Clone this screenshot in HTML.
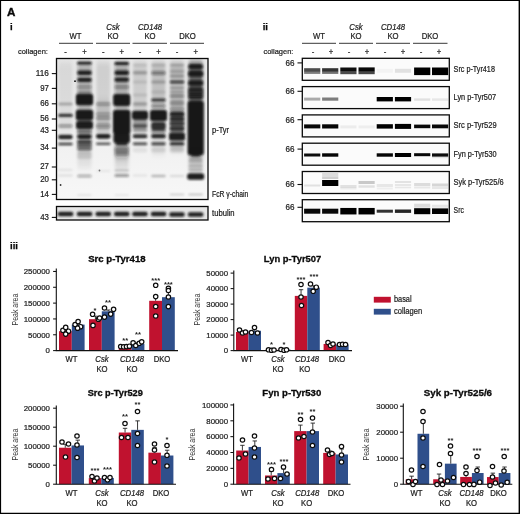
<!DOCTYPE html>
<html lang="en"><head><meta charset="utf-8"><title>Figure A</title>
<style>html,body{margin:0;padding:0;background:#fff;overflow:hidden}svg{display:block}text{font-family:'Liberation Sans', Arial, sans-serif}</style></head><body>
<svg width="520" height="514" viewBox="0 0 520 514">
<defs>
<filter id="b1" filterUnits="userSpaceOnUse" x="50" y="50" width="165" height="175"><feGaussianBlur stdDeviation="1.0 0.85"/></filter>
<filter id="b2" filterUnits="userSpaceOnUse" x="50" y="50" width="165" height="175"><feGaussianBlur stdDeviation="1.6 3"/></filter>
<filter id="b3" filterUnits="userSpaceOnUse" x="50" y="50" width="410" height="180"><feGaussianBlur stdDeviation="0.35 0.75"/></filter>
<linearGradient id="bg1" x1="0" y1="0" x2="0" y2="1"><stop offset="0" stop-color="#e7e7e7"/><stop offset="0.5" stop-color="#efefef"/><stop offset="1" stop-color="#f7f7f7"/></linearGradient>
<clipPath id="c1"><rect x="56.5" y="58.5" width="151.5" height="141"/></clipPath>
<clipPath id="c2"><rect x="56.5" y="206.5" width="151.5" height="13.5"/></clipPath>
</defs>
<rect x="0" y="0" width="520" height="514" fill="#fff"/>
<text x="6.9" y="16" font-size="10.8" text-anchor="start" font-weight="bold" textLength="8.4" lengthAdjust="spacingAndGlyphs" fill="#0a0a0a" stroke="#0a0a0a" stroke-width="0.35">A</text>
<text x="9.9" y="29.8" font-size="9.6" text-anchor="start" font-weight="bold" fill="#0a0a0a" stroke="#0a0a0a" stroke-width="0.25">i</text>
<text x="262.7" y="29.8" font-size="9.6" text-anchor="start" font-weight="bold" fill="#0a0a0a" stroke="#0a0a0a" stroke-width="0.25">ii</text>
<text x="10" y="248.6" font-size="9.6" text-anchor="start" font-weight="bold" fill="#0a0a0a" stroke="#0a0a0a" stroke-width="0.25">iii</text>
<text transform="translate(75.5 38.9) scale(0.93 1)" font-size="8.3" text-anchor="middle" stroke="#222" stroke-width="0.22" fill="#222">WT</text>
<line x1="59" y1="43.3" x2="93" y2="43.3" stroke="#222" stroke-width="0.9"/>
<text transform="translate(113 30.2) scale(0.93 1)" font-size="8.3" text-anchor="middle" font-style="italic" stroke="#222" stroke-width="0.22" fill="#222">Csk</text>
<text transform="translate(113 38.9) scale(0.93 1)" font-size="8.3" text-anchor="middle" stroke="#222" stroke-width="0.22" fill="#222">KO</text>
<line x1="96" y1="43.3" x2="130" y2="43.3" stroke="#222" stroke-width="0.9"/>
<text transform="translate(150 30.2) scale(0.93 1)" font-size="8.3" text-anchor="middle" font-style="italic" stroke="#222" stroke-width="0.22" fill="#222">CD148</text>
<text transform="translate(150 38.9) scale(0.93 1)" font-size="8.3" text-anchor="middle" stroke="#222" stroke-width="0.22" fill="#222">KO</text>
<line x1="132.5" y1="43.3" x2="167" y2="43.3" stroke="#222" stroke-width="0.9"/>
<text transform="translate(187.5 38.9) scale(0.93 1)" font-size="8.3" text-anchor="middle" stroke="#222" stroke-width="0.22" fill="#222">DKO</text>
<line x1="170" y1="43.3" x2="204" y2="43.3" stroke="#222" stroke-width="0.9"/>
<text x="17.9" y="54.2" font-size="7.9" text-anchor="start" textLength="30" lengthAdjust="spacingAndGlyphs" stroke="#222" stroke-width="0.22" fill="#222">collagen:</text>
<text transform="translate(65.5 55.0) scale(0.93 1)" font-size="8.3" text-anchor="middle" stroke="#222" stroke-width="0.22" fill="#222">-</text>
<text transform="translate(84.5 55.1) scale(0.93 1)" font-size="8.3" text-anchor="middle" stroke="#222" stroke-width="0.22" fill="#222">+</text>
<text transform="translate(103.3 55.0) scale(0.93 1)" font-size="8.3" text-anchor="middle" stroke="#222" stroke-width="0.22" fill="#222">-</text>
<text transform="translate(121.7 55.1) scale(0.93 1)" font-size="8.3" text-anchor="middle" stroke="#222" stroke-width="0.22" fill="#222">+</text>
<text transform="translate(140 55.0) scale(0.93 1)" font-size="8.3" text-anchor="middle" stroke="#222" stroke-width="0.22" fill="#222">-</text>
<text transform="translate(158.5 55.1) scale(0.93 1)" font-size="8.3" text-anchor="middle" stroke="#222" stroke-width="0.22" fill="#222">+</text>
<text transform="translate(177 55.0) scale(0.93 1)" font-size="8.3" text-anchor="middle" stroke="#222" stroke-width="0.22" fill="#222">-</text>
<text transform="translate(195.7 55.1) scale(0.93 1)" font-size="8.3" text-anchor="middle" stroke="#222" stroke-width="0.22" fill="#222">+</text>
<text x="48.9" y="75.89999999999999" font-size="8.5" text-anchor="end" textLength="13.11" lengthAdjust="spacingAndGlyphs" stroke="#222" stroke-width="0.22" fill="#222">116</text>
<line x1="51.8" y1="73.6" x2="56.5" y2="73.6" stroke="#111" stroke-width="1.1"/>
<text x="48.9" y="90.7" font-size="8.5" text-anchor="end" textLength="8.74" lengthAdjust="spacingAndGlyphs" stroke="#222" stroke-width="0.22" fill="#222">97</text>
<line x1="51.8" y1="88.4" x2="56.5" y2="88.4" stroke="#111" stroke-width="1.1"/>
<text x="48.9" y="106.1" font-size="8.5" text-anchor="end" textLength="8.74" lengthAdjust="spacingAndGlyphs" stroke="#222" stroke-width="0.22" fill="#222">66</text>
<line x1="51.8" y1="103.8" x2="56.5" y2="103.8" stroke="#111" stroke-width="1.1"/>
<text x="48.9" y="121.3" font-size="8.5" text-anchor="end" textLength="8.74" lengthAdjust="spacingAndGlyphs" stroke="#222" stroke-width="0.22" fill="#222">56</text>
<line x1="51.8" y1="119" x2="56.5" y2="119" stroke="#111" stroke-width="1.1"/>
<text x="48.9" y="132.60000000000002" font-size="8.5" text-anchor="end" textLength="8.74" lengthAdjust="spacingAndGlyphs" stroke="#222" stroke-width="0.22" fill="#222">43</text>
<line x1="51.8" y1="130.3" x2="56.5" y2="130.3" stroke="#111" stroke-width="1.1"/>
<text x="48.9" y="150.4" font-size="8.5" text-anchor="end" textLength="8.74" lengthAdjust="spacingAndGlyphs" stroke="#222" stroke-width="0.22" fill="#222">34</text>
<line x1="51.8" y1="148.1" x2="56.5" y2="148.1" stroke="#111" stroke-width="1.1"/>
<text x="48.9" y="169.3" font-size="8.5" text-anchor="end" textLength="8.74" lengthAdjust="spacingAndGlyphs" stroke="#222" stroke-width="0.22" fill="#222">27</text>
<line x1="51.8" y1="167" x2="56.5" y2="167" stroke="#111" stroke-width="1.1"/>
<text x="48.9" y="182.10000000000002" font-size="8.5" text-anchor="end" textLength="8.74" lengthAdjust="spacingAndGlyphs" stroke="#222" stroke-width="0.22" fill="#222">20</text>
<line x1="51.8" y1="179.8" x2="56.5" y2="179.8" stroke="#111" stroke-width="1.1"/>
<text x="48.9" y="196.70000000000002" font-size="8.5" text-anchor="end" textLength="8.74" lengthAdjust="spacingAndGlyphs" stroke="#222" stroke-width="0.22" fill="#222">14</text>
<line x1="51.8" y1="194.4" x2="56.5" y2="194.4" stroke="#111" stroke-width="1.1"/>
<text x="48.9" y="219.70000000000002" font-size="8.5" text-anchor="end" textLength="8.74" lengthAdjust="spacingAndGlyphs" stroke="#222" stroke-width="0.22" fill="#222">43</text>
<line x1="51.8" y1="217.4" x2="56.5" y2="217.4" stroke="#111" stroke-width="1.1"/>
<text x="212" y="133" font-size="8.3" text-anchor="start" textLength="17" lengthAdjust="spacingAndGlyphs" stroke="#222" stroke-width="0.22" fill="#222">p-Tyr</text>
<text x="212" y="196.6" font-size="8.3" text-anchor="start" textLength="36.3" lengthAdjust="spacingAndGlyphs" stroke="#222" stroke-width="0.22" fill="#222">FcR γ-chain</text>
<text x="212" y="215.6" font-size="8.3" text-anchor="start" textLength="22.6" lengthAdjust="spacingAndGlyphs" stroke="#222" stroke-width="0.22" fill="#222">tubulin</text>
<rect x="56.5" y="58.5" width="151.5" height="141" fill="url(#bg1)"/>
<g clip-path="url(#c1)">
<g filter="url(#b2)">
<rect x="58.5" y="62.0" width="14" height="70" rx="3" fill="#141414" opacity="0.07"/>
<rect x="77.5" y="62.0" width="14" height="88" rx="3" fill="#141414" opacity="0.28"/>
<rect x="77.5" y="150.0" width="14" height="18" rx="3" fill="#141414" opacity="0.08"/>
<rect x="96.3" y="62.0" width="14" height="38" rx="3" fill="#141414" opacity="0.11"/>
<rect x="96.3" y="100.0" width="14" height="34" rx="3" fill="#141414" opacity="0.2"/>
<rect x="114.7" y="62.0" width="14" height="96" rx="3" fill="#141414" opacity="0.3"/>
<rect x="114.7" y="150.0" width="14" height="20" rx="3" fill="#141414" opacity="0.1"/>
<rect x="133.0" y="62.0" width="14" height="72" rx="3" fill="#141414" opacity="0.13"/>
<rect x="151.5" y="62.0" width="14" height="72" rx="3" fill="#141414" opacity="0.18"/>
<rect x="151.5" y="134.0" width="14" height="20" rx="3" fill="#141414" opacity="0.08"/>
<rect x="170.0" y="62.0" width="14" height="88" rx="3" fill="#141414" opacity="0.22"/>
<rect x="188.7" y="62.0" width="14" height="42" rx="3" fill="#141414" opacity="0.6"/>
<rect x="188.7" y="100.0" width="14" height="58" rx="3" fill="#141414" opacity="0.5"/>
<rect x="188.7" y="158.0" width="14" height="14" rx="3" fill="#141414" opacity="0.1"/>
</g>
<g filter="url(#b1)">
<rect x="58.2" y="102.5" width="14.5" height="3" rx="1.5" fill="#141414" opacity="0.25"/>
<rect x="58.2" y="113.8" width="14.5" height="3.2" rx="1.6" fill="#141414" opacity="0.85"/>
<rect x="58.2" y="124.2" width="14.5" height="3.5" rx="1.75" fill="#141414" opacity="0.35"/>
<rect x="58.2" y="134.7" width="14.5" height="4.6" rx="2.3" fill="#141414" opacity="0.93"/>
<rect x="58.2" y="142.7" width="14.5" height="2.6" rx="1.3" fill="#141414" opacity="0.8"/>
<rect x="58.2" y="169.0" width="14.5" height="2" rx="1.0" fill="#141414" opacity="0.08"/>
<rect x="58.2" y="174.5" width="14.5" height="2" rx="1.0" fill="#141414" opacity="0.1"/>
<rect x="77.2" y="61.8" width="14.5" height="2.8" rx="1.4" fill="#141414" opacity="0.97"/>
<rect x="77.2" y="70.6" width="14.5" height="4.4" rx="2.2" fill="#141414" opacity="0.95"/>
<rect x="77.2" y="77.8" width="14.5" height="4.2" rx="2.1" fill="#141414" opacity="0.95"/>
<rect x="77.2" y="85.5" width="14.5" height="3" rx="1.5" fill="#141414" opacity="0.3"/>
<rect x="77.2" y="91.0" width="14.5" height="2" rx="1.0" fill="#141414" opacity="0.25"/>
<rect x="75.9" y="93.8" width="17.2" height="11.5" rx="2.5" fill="#141414" opacity="0.98"/>
<rect x="75.8" y="109.8" width="17.4" height="10.5" rx="2.5" fill="#141414" opacity="0.98"/>
<rect x="76.0" y="121.0" width="17" height="8" rx="2.5" fill="#141414" opacity="0.96"/>
<rect x="77.2" y="130.0" width="14.5" height="3" rx="1.5" fill="#141414" opacity="0.5"/>
<rect x="77.2" y="134.2" width="14.5" height="4.8" rx="2.4" fill="#141414" opacity="0.95"/>
<rect x="77.2" y="140.5" width="14.5" height="3" rx="1.5" fill="#141414" opacity="0.88"/>
<rect x="77.2" y="144.2" width="14.5" height="2.5" rx="1.25" fill="#141414" opacity="0.7"/>
<rect x="77.2" y="147.5" width="14.5" height="2.6" rx="1.3" fill="#141414" opacity="0.65"/>
<rect x="77.2" y="151.0" width="14.5" height="8" rx="2.5" fill="#141414" opacity="0.12"/>
<rect x="77.2" y="174.5" width="14.5" height="3" rx="1.5" fill="#141414" opacity="0.3"/>
<rect x="77.2" y="194.2" width="14.5" height="1.5" rx="0.75" fill="#141414" opacity="0.1"/>
<rect x="96.0" y="102.2" width="14.5" height="3.5" rx="1.75" fill="#141414" opacity="0.3"/>
<rect x="96.0" y="112.5" width="14.5" height="3" rx="1.5" fill="#141414" opacity="0.3"/>
<rect x="96.0" y="116.5" width="14.5" height="3" rx="1.5" fill="#141414" opacity="0.35"/>
<rect x="96.0" y="123.5" width="14.5" height="5" rx="2.5" fill="#141414" opacity="0.3"/>
<rect x="96.0" y="133.9" width="14.5" height="4.8" rx="2.4" fill="#141414" opacity="0.95"/>
<rect x="96.0" y="142.6" width="14.5" height="2.5" rx="1.25" fill="#141414" opacity="0.7"/>
<rect x="96.0" y="170.2" width="14.5" height="1.5" rx="0.75" fill="#141414" opacity="0.08"/>
<rect x="114.5" y="62.0" width="14.5" height="3" rx="1.5" fill="#141414" opacity="0.97"/>
<rect x="114.5" y="70.6" width="14.5" height="4.4" rx="2.2" fill="#141414" opacity="0.96"/>
<rect x="114.5" y="77.6" width="14.5" height="4.2" rx="2.1" fill="#141414" opacity="0.95"/>
<rect x="114.5" y="85.5" width="14.5" height="3" rx="1.5" fill="#141414" opacity="0.35"/>
<rect x="113.2" y="94.0" width="17" height="12" rx="2.5" fill="#141414" opacity="0.98"/>
<rect x="113.0" y="110.0" width="17.4" height="24" rx="2.5" fill="#141414" opacity="0.99"/>
<rect x="113.5" y="133.0" width="16.4" height="10" rx="2.5" fill="#141414" opacity="0.97"/>
<rect x="115.7" y="141.5" width="12" height="4" rx="2.0" fill="#141414" opacity="0.8"/>
<rect x="114.5" y="147.0" width="14.5" height="6" rx="2.5" fill="#141414" opacity="0.35"/>
<rect x="114.5" y="152.5" width="14.5" height="3" rx="1.5" fill="#141414" opacity="0.3"/>
<rect x="114.5" y="169.4" width="14.5" height="2" rx="1.0" fill="#141414" opacity="0.2"/>
<rect x="114.5" y="174.1" width="14.5" height="3" rx="1.5" fill="#141414" opacity="0.4"/>
<rect x="114.5" y="194.2" width="14.5" height="1.5" rx="0.75" fill="#141414" opacity="0.08"/>
<rect x="132.8" y="63.8" width="14.5" height="2.5" rx="1.25" fill="#141414" opacity="0.1"/>
<rect x="132.8" y="71.0" width="14.5" height="3.5" rx="1.75" fill="#141414" opacity="0.25"/>
<rect x="132.8" y="80.5" width="14.5" height="3" rx="1.5" fill="#141414" opacity="0.1"/>
<rect x="132.8" y="93.5" width="14.5" height="3" rx="1.5" fill="#141414" opacity="0.1"/>
<rect x="132.8" y="102.2" width="14.5" height="3.5" rx="1.75" fill="#141414" opacity="0.25"/>
<rect x="132.0" y="110.8" width="16" height="9" rx="2.5" fill="#141414" opacity="0.97"/>
<rect x="132.8" y="119.5" width="14.5" height="9" rx="2.5" fill="#141414" opacity="0.3"/>
<rect x="132.8" y="124.2" width="14.5" height="3.5" rx="1.75" fill="#141414" opacity="0.55"/>
<rect x="132.8" y="128.8" width="14.5" height="2.5" rx="1.25" fill="#141414" opacity="0.4"/>
<rect x="132.8" y="134.2" width="14.5" height="4" rx="2.0" fill="#141414" opacity="0.88"/>
<rect x="132.8" y="142.3" width="14.5" height="3" rx="1.5" fill="#141414" opacity="0.7"/>
<rect x="132.8" y="147.5" width="14.5" height="5" rx="2.5" fill="#141414" opacity="0.07"/>
<rect x="132.8" y="174.5" width="14.5" height="2" rx="1.0" fill="#141414" opacity="0.08"/>
<rect x="151.2" y="63.8" width="14.5" height="2.5" rx="1.25" fill="#141414" opacity="0.15"/>
<rect x="151.2" y="71.0" width="14.5" height="4" rx="2.0" fill="#141414" opacity="0.42"/>
<rect x="151.2" y="80.5" width="14.5" height="3" rx="1.5" fill="#141414" opacity="0.22"/>
<rect x="151.2" y="90.5" width="14.5" height="3" rx="1.5" fill="#141414" opacity="0.1"/>
<rect x="151.2" y="98.5" width="14.5" height="3" rx="1.5" fill="#141414" opacity="0.8"/>
<rect x="151.2" y="104.0" width="14.5" height="4" rx="2.0" fill="#141414" opacity="0.3"/>
<rect x="150.0" y="110.1" width="17" height="11" rx="2.5" fill="#141414" opacity="0.98"/>
<rect x="151.2" y="122.0" width="14.5" height="8" rx="2.5" fill="#141414" opacity="0.82"/>
<rect x="151.2" y="129.8" width="14.5" height="2.5" rx="1.25" fill="#141414" opacity="0.5"/>
<rect x="151.2" y="134.1" width="14.5" height="4.2" rx="2.1" fill="#141414" opacity="0.9"/>
<rect x="151.2" y="142.3" width="14.5" height="3" rx="1.5" fill="#141414" opacity="0.75"/>
<rect x="151.2" y="147.5" width="14.5" height="5" rx="2.5" fill="#141414" opacity="0.09"/>
<rect x="151.2" y="174.8" width="14.5" height="2.5" rx="1.25" fill="#141414" opacity="0.25"/>
<rect x="169.8" y="64.0" width="14.5" height="2" rx="1.0" fill="#141414" opacity="0.2"/>
<rect x="169.8" y="70.5" width="14.5" height="2" rx="1.0" fill="#141414" opacity="0.2"/>
<rect x="169.8" y="75.0" width="14.5" height="2" rx="1.0" fill="#141414" opacity="0.25"/>
<rect x="169.8" y="80.8" width="14.5" height="2.4" rx="1.2" fill="#141414" opacity="0.8"/>
<rect x="169.8" y="87.0" width="14.5" height="2" rx="1.0" fill="#141414" opacity="0.2"/>
<rect x="169.8" y="91.0" width="14.5" height="2" rx="1.0" fill="#141414" opacity="0.2"/>
<rect x="169.8" y="94.8" width="14.5" height="2.5" rx="1.25" fill="#141414" opacity="0.4"/>
<rect x="169.8" y="100.5" width="14.5" height="5" rx="2.5" fill="#141414" opacity="0.25"/>
<rect x="169.8" y="107.5" width="14.5" height="3" rx="1.5" fill="#141414" opacity="0.3"/>
<rect x="169.8" y="112.0" width="14.5" height="20" rx="2.5" fill="#141414" opacity="0.4"/>
<rect x="169.8" y="111.5" width="14.5" height="5" rx="2.5" fill="#141414" opacity="0.88"/>
<rect x="169.8" y="117.2" width="14.5" height="3.5" rx="1.75" fill="#141414" opacity="0.8"/>
<rect x="169.8" y="121.8" width="14.5" height="3.5" rx="1.75" fill="#141414" opacity="0.75"/>
<rect x="169.8" y="126.5" width="14.5" height="4" rx="2.0" fill="#141414" opacity="0.78"/>
<rect x="169.0" y="132.5" width="16" height="8" rx="2.5" fill="#141414" opacity="0.95"/>
<rect x="169.8" y="142.3" width="14.5" height="3" rx="1.5" fill="#141414" opacity="0.85"/>
<rect x="169.8" y="147.5" width="14.5" height="5" rx="2.5" fill="#141414" opacity="0.1"/>
<rect x="169.8" y="175.0" width="14.5" height="2" rx="1.0" fill="#141414" opacity="0.12"/>
<rect x="169.8" y="193.8" width="14.5" height="1.5" rx="0.75" fill="#141414" opacity="0.2"/>
<rect x="188.4" y="64.0" width="14.5" height="5" rx="2.5" fill="#141414" opacity="0.95"/>
<rect x="188.2" y="70.8" width="15" height="6" rx="2.5" fill="#141414" opacity="0.95"/>
<rect x="188.2" y="80.2" width="15" height="5.5" rx="2.5" fill="#141414" opacity="0.95"/>
<rect x="188.2" y="87.0" width="15" height="12" rx="2.5" fill="#141414" opacity="0.75"/>
<rect x="188.4" y="90.8" width="14.5" height="2.5" rx="1.25" fill="#141414" opacity="0.4"/>
<rect x="188.4" y="95.8" width="14.5" height="2.5" rx="1.25" fill="#141414" opacity="0.4"/>
<rect x="187.7" y="101.0" width="16" height="54" rx="2.5" fill="#141414" opacity="0.99"/>
<rect x="189.7" y="146.5" width="12" height="9" rx="2.5" fill="#141414" opacity="0.95"/>
<rect x="191.2" y="152.5" width="9" height="4" rx="2.0" fill="#141414" opacity="0.8"/>
<rect x="188.4" y="158.0" width="14.5" height="14" rx="2.5" fill="#141414" opacity="0.1"/>
<rect x="188.4" y="160.0" width="14.5" height="2" rx="1.0" fill="#141414" opacity="0.1"/>
<rect x="188.4" y="165.0" width="14.5" height="2" rx="1.0" fill="#141414" opacity="0.12"/>
<rect x="188.4" y="169.0" width="14.5" height="2" rx="1.0" fill="#141414" opacity="0.15"/>
<rect x="187.2" y="173.2" width="17" height="6.5" rx="2.5" fill="#141414" opacity="0.97"/>
<rect x="188.4" y="193.8" width="14.5" height="1.5" rx="0.75" fill="#141414" opacity="0.25"/>
</g>
<circle cx="75" cy="81.2" r="0.9" fill="#111" />
<circle cx="60.6" cy="185" r="0.9" fill="#333"/>
<circle cx="99.5" cy="170.5" r="0.9" fill="#777"/>
</g>
<rect x="56.5" y="58.5" width="151.5" height="141" fill="none" stroke="#0a0a0a" stroke-width="1.3"/>
<rect x="56.5" y="206.5" width="151.5" height="13.5" fill="#e6e6e6"/>
<g clip-path="url(#c2)">
<g filter="url(#b1)">
<rect x="57.8" y="211.7" width="15.5" height="4.5" rx="2" fill="#141414" opacity="0.95"/>
<rect x="76.8" y="211.7" width="15.5" height="4.5" rx="2" fill="#141414" opacity="0.95"/>
<rect x="95.5" y="211.7" width="15.5" height="4.5" rx="2" fill="#141414" opacity="0.95"/>
<rect x="114.0" y="211.7" width="15.5" height="4.5" rx="2" fill="#141414" opacity="0.95"/>
<rect x="132.2" y="211.7" width="15.5" height="4.5" rx="2" fill="#141414" opacity="0.95"/>
<rect x="150.8" y="211.7" width="15.5" height="4.5" rx="2" fill="#141414" opacity="0.95"/>
<rect x="169.2" y="212.2" width="15.5" height="4.5" rx="2" fill="#141414" opacity="0.95"/>
<rect x="187.9" y="212.2" width="15.5" height="4.5" rx="2" fill="#141414" opacity="0.95"/>
</g>
</g>
<rect x="56.5" y="206.5" width="151.5" height="13.5" fill="none" stroke="#0a0a0a" stroke-width="1.3"/>
<text transform="translate(319 38.9) scale(0.93 1)" font-size="8.3" text-anchor="middle" stroke="#222" stroke-width="0.22" fill="#222">WT</text>
<line x1="302" y1="43.3" x2="336" y2="43.3" stroke="#222" stroke-width="0.9"/>
<text transform="translate(356 30.2) scale(0.93 1)" font-size="8.3" text-anchor="middle" font-style="italic" stroke="#222" stroke-width="0.22" fill="#222">Csk</text>
<text transform="translate(356 38.9) scale(0.93 1)" font-size="8.3" text-anchor="middle" stroke="#222" stroke-width="0.22" fill="#222">KO</text>
<line x1="339" y1="43.3" x2="373" y2="43.3" stroke="#222" stroke-width="0.9"/>
<text transform="translate(393 30.2) scale(0.93 1)" font-size="8.3" text-anchor="middle" font-style="italic" stroke="#222" stroke-width="0.22" fill="#222">CD148</text>
<text transform="translate(393 38.9) scale(0.93 1)" font-size="8.3" text-anchor="middle" stroke="#222" stroke-width="0.22" fill="#222">KO</text>
<line x1="376" y1="43.3" x2="410" y2="43.3" stroke="#222" stroke-width="0.9"/>
<text transform="translate(430 38.9) scale(0.93 1)" font-size="8.3" text-anchor="middle" stroke="#222" stroke-width="0.22" fill="#222">DKO</text>
<line x1="413" y1="43.3" x2="447.5" y2="43.3" stroke="#222" stroke-width="0.9"/>
<text x="263.4" y="54.2" font-size="7.9" text-anchor="start" textLength="30" lengthAdjust="spacingAndGlyphs" stroke="#222" stroke-width="0.22" fill="#222">collagen:</text>
<text transform="translate(313 55.0) scale(0.93 1)" font-size="8.3" text-anchor="middle" stroke="#222" stroke-width="0.22" fill="#222">-</text>
<text transform="translate(331 55.1) scale(0.93 1)" font-size="8.3" text-anchor="middle" stroke="#222" stroke-width="0.22" fill="#222">+</text>
<text transform="translate(349 55.0) scale(0.93 1)" font-size="8.3" text-anchor="middle" stroke="#222" stroke-width="0.22" fill="#222">-</text>
<text transform="translate(367 55.1) scale(0.93 1)" font-size="8.3" text-anchor="middle" stroke="#222" stroke-width="0.22" fill="#222">+</text>
<text transform="translate(385 55.0) scale(0.93 1)" font-size="8.3" text-anchor="middle" stroke="#222" stroke-width="0.22" fill="#222">-</text>
<text transform="translate(403 55.1) scale(0.93 1)" font-size="8.3" text-anchor="middle" stroke="#222" stroke-width="0.22" fill="#222">+</text>
<text transform="translate(421 55.0) scale(0.93 1)" font-size="8.3" text-anchor="middle" stroke="#222" stroke-width="0.22" fill="#222">-</text>
<text transform="translate(439 55.1) scale(0.93 1)" font-size="8.3" text-anchor="middle" stroke="#222" stroke-width="0.22" fill="#222">+</text>
<rect x="302.3" y="58.3" width="147" height="22" fill="#fbfbfb"/>
<g filter="url(#b3)">
<rect x="304.1" y="68.20" width="16.2" height="3.4" fill="#000" opacity="0.7"/>
<rect x="304.1" y="71.30" width="16.2" height="2.6" fill="#000" opacity="0.5"/>
<rect x="322.1" y="68.20" width="16.2" height="3.4" fill="#000" opacity="0.8"/>
<rect x="322.1" y="71.30" width="16.2" height="2.6" fill="#000" opacity="0.55"/>
<rect x="340.3" y="67.50" width="16.2" height="3.6" fill="#000" opacity="0.95"/>
<rect x="340.3" y="71.00" width="16.2" height="3.2" fill="#000" opacity="0.7"/>
<rect x="358.5" y="67.40" width="16.2" height="3.8" fill="#000" opacity="0.97"/>
<rect x="358.5" y="71.00" width="16.2" height="3.2" fill="#000" opacity="0.72"/>
<rect x="376.7" y="68.80" width="16.2" height="4" fill="#000" opacity="0.03"/>
<rect x="394.9" y="68.80" width="16.2" height="4" fill="#000" opacity="0.1"/>
<rect x="414.1" y="67.50" width="16.2" height="7.6" fill="#000" opacity="1"/>
<rect x="432.0" y="67.50" width="16.2" height="7.6" fill="#000" opacity="1"/>
</g>
<rect x="302.3" y="58.3" width="147" height="22" fill="none" stroke="#0a0a0a" stroke-width="1.3"/>
<text x="453.6" y="71.7" font-size="8.3" text-anchor="start" textLength="41.3" lengthAdjust="spacingAndGlyphs" stroke="#222" stroke-width="0.22" fill="#222">Src p-Tyr418</text>
<text x="294.6" y="65.8" font-size="8.5" text-anchor="end" textLength="9.0" lengthAdjust="spacingAndGlyphs" stroke="#222" stroke-width="0.22" fill="#222">66</text>
<line x1="297.5" y1="62.9" x2="302.3" y2="62.9" stroke="#111" stroke-width="1.1"/>
<rect x="302.3" y="86.6" width="147" height="22" fill="#fbfbfb"/>
<g filter="url(#b3)">
<rect x="304.1" y="97.60" width="16.2" height="3" fill="#000" opacity="0.32"/>
<rect x="322.1" y="97.50" width="16.2" height="3.2" fill="#000" opacity="0.5"/>
<rect x="376.7" y="97.00" width="16.2" height="4.4" fill="#000" opacity="1"/>
<rect x="394.9" y="97.00" width="16.2" height="4.4" fill="#000" opacity="1"/>
<rect x="414.1" y="98.35" width="16.2" height="2.5" fill="#000" opacity="0.1"/>
<rect x="432.0" y="98.35" width="16.2" height="2.5" fill="#000" opacity="0.08"/>
</g>
<rect x="302.3" y="86.6" width="147" height="22" fill="none" stroke="#0a0a0a" stroke-width="1.3"/>
<text x="453.6" y="100.0" font-size="8.3" text-anchor="start" textLength="42.5" lengthAdjust="spacingAndGlyphs" stroke="#222" stroke-width="0.22" fill="#222">Lyn p-Tyr507</text>
<text x="294.6" y="94.2" font-size="8.5" text-anchor="end" textLength="9.0" lengthAdjust="spacingAndGlyphs" stroke="#222" stroke-width="0.22" fill="#222">66</text>
<line x1="297.5" y1="91.3" x2="302.3" y2="91.3" stroke="#111" stroke-width="1.1"/>
<rect x="302.3" y="114.9" width="147" height="22" fill="#fbfbfb"/>
<g filter="url(#b3)">
<rect x="304.1" y="124.40" width="16.2" height="4" fill="#000" opacity="0.97"/>
<rect x="322.1" y="124.30" width="16.2" height="4.2" fill="#000" opacity="0.98"/>
<rect x="340.3" y="125.40" width="16.2" height="3" fill="#000" opacity="0.06"/>
<rect x="358.5" y="125.40" width="16.2" height="3" fill="#000" opacity="0.05"/>
<rect x="376.7" y="124.20" width="16.2" height="4.4" fill="#000" opacity="1"/>
<rect x="394.9" y="123.90" width="16.2" height="5" fill="#000" opacity="1"/>
<rect x="414.1" y="124.60" width="16.2" height="3.6" fill="#000" opacity="0.97"/>
<rect x="432.0" y="124.50" width="16.2" height="3.8" fill="#000" opacity="0.97"/>
</g>
<rect x="302.3" y="114.9" width="147" height="22" fill="none" stroke="#0a0a0a" stroke-width="1.3"/>
<text x="453.6" y="128.3" font-size="8.3" text-anchor="start" textLength="43" lengthAdjust="spacingAndGlyphs" stroke="#222" stroke-width="0.22" fill="#222">Src p-Tyr529</text>
<text x="294.6" y="122.60000000000001" font-size="8.5" text-anchor="end" textLength="9.0" lengthAdjust="spacingAndGlyphs" stroke="#222" stroke-width="0.22" fill="#222">66</text>
<line x1="297.5" y1="119.7" x2="302.3" y2="119.7" stroke="#111" stroke-width="1.1"/>
<rect x="302.3" y="143.2" width="147" height="22" fill="#fbfbfb"/>
<g filter="url(#b3)">
<rect x="304.1" y="153.50" width="16.2" height="3" fill="#000" opacity="0.95"/>
<rect x="322.1" y="153.30" width="16.2" height="3.4" fill="#000" opacity="0.98"/>
<rect x="376.7" y="153.30" width="16.2" height="3.4" fill="#000" opacity="0.98"/>
<rect x="394.9" y="153.00" width="16.2" height="4" fill="#000" opacity="1"/>
<rect x="414.1" y="153.20" width="16.2" height="3" fill="#000" opacity="0.97"/>
<rect x="432.0" y="153.40" width="16.2" height="3.2" fill="#000" opacity="0.95"/>
<rect x="432.0" y="156.20" width="16.2" height="2" fill="#000" opacity="0.1"/>
</g>
<rect x="302.3" y="143.2" width="147" height="22" fill="none" stroke="#0a0a0a" stroke-width="1.3"/>
<text x="453.6" y="156.6" font-size="8.3" text-anchor="start" textLength="43" lengthAdjust="spacingAndGlyphs" stroke="#222" stroke-width="0.22" fill="#222">Fyn p-Tyr530</text>
<text x="294.6" y="152.0" font-size="8.5" text-anchor="end" textLength="9.0" lengthAdjust="spacingAndGlyphs" stroke="#222" stroke-width="0.22" fill="#222">66</text>
<line x1="297.5" y1="149.1" x2="302.3" y2="149.1" stroke="#111" stroke-width="1.1"/>
<rect x="302.3" y="171.5" width="147" height="22" fill="#fbfbfb"/>
<g filter="url(#b3)">
<rect x="304.1" y="184.50" width="16.2" height="2" fill="#000" opacity="0.1"/>
<rect x="322.1" y="180.00" width="16.2" height="6" fill="#000" opacity="1"/>
<rect x="322.1" y="173.00" width="16.2" height="4" fill="#000" opacity="0.12"/>
<rect x="322.1" y="177.00" width="16.2" height="2" fill="#000" opacity="0.18"/>
<rect x="340.3" y="185.00" width="16.2" height="3" fill="#000" opacity="0.1"/>
<rect x="340.3" y="187.50" width="16.2" height="2" fill="#000" opacity="0.06"/>
<rect x="358.5" y="181.00" width="16.2" height="3" fill="#000" opacity="0.2"/>
<rect x="358.5" y="185.25" width="16.2" height="2.5" fill="#000" opacity="0.1"/>
<rect x="376.7" y="184.00" width="16.2" height="3" fill="#000" opacity="0.08"/>
<rect x="376.7" y="187.50" width="16.2" height="2" fill="#000" opacity="0.05"/>
<rect x="394.9" y="181.20" width="16.2" height="1.6" fill="#000" opacity="0.12"/>
<rect x="394.9" y="184.20" width="16.2" height="1.6" fill="#000" opacity="0.1"/>
<rect x="394.9" y="186.70" width="16.2" height="1.6" fill="#000" opacity="0.08"/>
<rect x="414.1" y="183.00" width="16.2" height="3" fill="#000" opacity="0.12"/>
<rect x="414.1" y="186.50" width="16.2" height="2" fill="#000" opacity="0.08"/>
<rect x="432.0" y="183.50" width="16.2" height="3" fill="#000" opacity="0.15"/>
<rect x="432.0" y="187.00" width="16.2" height="2" fill="#000" opacity="0.08"/>
</g>
<rect x="302.3" y="171.5" width="147" height="22" fill="none" stroke="#0a0a0a" stroke-width="1.3"/>
<text x="453.6" y="184.9" font-size="8.3" text-anchor="start" textLength="50" lengthAdjust="spacingAndGlyphs" stroke="#222" stroke-width="0.22" fill="#222">Syk p-Tyr525/6</text>
<text x="294.6" y="187.4" font-size="8.5" text-anchor="end" textLength="9.0" lengthAdjust="spacingAndGlyphs" stroke="#222" stroke-width="0.22" fill="#222">66</text>
<line x1="297.5" y1="184.5" x2="302.3" y2="184.5" stroke="#111" stroke-width="1.1"/>
<rect x="302.3" y="199.7" width="147" height="22" fill="#fbfbfb"/>
<g filter="url(#b3)">
<rect x="304.1" y="208.70" width="16.2" height="5" fill="#000" opacity="0.97"/>
<rect x="322.1" y="208.70" width="16.2" height="5" fill="#000" opacity="0.97"/>
<rect x="340.3" y="207.95" width="16.2" height="6.5" fill="#000" opacity="1"/>
<rect x="358.5" y="207.95" width="16.2" height="6.5" fill="#000" opacity="1"/>
<rect x="376.7" y="209.70" width="16.2" height="3" fill="#000" opacity="0.8"/>
<rect x="394.9" y="209.50" width="16.2" height="3.4" fill="#000" opacity="0.85"/>
<rect x="414.1" y="208.20" width="16.2" height="6" fill="#000" opacity="1"/>
<rect x="414.1" y="203.70" width="16.2" height="4" fill="#000" opacity="0.12"/>
<rect x="432.0" y="208.40" width="16.2" height="5.6" fill="#000" opacity="1"/>
<rect x="432.0" y="204.70" width="16.2" height="3" fill="#000" opacity="0.08"/>
</g>
<rect x="302.3" y="199.7" width="147" height="22" fill="none" stroke="#0a0a0a" stroke-width="1.3"/>
<text x="453.6" y="213.1" font-size="8.3" text-anchor="start" textLength="10.2" lengthAdjust="spacingAndGlyphs" stroke="#222" stroke-width="0.22" fill="#222">Src</text>
<text x="294.6" y="210.20000000000002" font-size="8.5" text-anchor="end" textLength="9.0" lengthAdjust="spacingAndGlyphs" stroke="#222" stroke-width="0.22" fill="#222">66</text>
<line x1="297.5" y1="207.3" x2="302.3" y2="207.3" stroke="#111" stroke-width="1.1"/>
<text x="116.9" y="262.0" font-size="9.7" text-anchor="middle" font-weight="bold" textLength="57.4" lengthAdjust="spacingAndGlyphs" fill="#0a0a0a" stroke="#0a0a0a" stroke-width="0.3">Src p-Tyr418</text>
<rect x="59.00" y="331.20" width="12.8" height="19.40" fill="#c0122f"/>
<path d="M65.40 331.20V330.20M63.20 330.20H67.60" stroke="#222" stroke-width="0.9" fill="none"/>
<rect x="71.80" y="324.60" width="12.8" height="26.00" fill="#2f4f8b"/>
<path d="M78.20 324.60V323.30M76.00 323.30H80.40" stroke="#222" stroke-width="0.9" fill="none"/>
<rect x="89.00" y="319.20" width="12.8" height="31.40" fill="#c0122f"/>
<path d="M95.40 319.20V316.20M93.20 316.20H97.60" stroke="#222" stroke-width="0.9" fill="none"/>
<rect x="101.80" y="311.30" width="12.8" height="39.30" fill="#2f4f8b"/>
<path d="M108.20 311.30V310.00M106.00 310.00H110.40" stroke="#222" stroke-width="0.9" fill="none"/>
<rect x="118.80" y="345.70" width="12.8" height="4.90" fill="#c0122f"/>
<path d="M125.20 345.70V345.20M123.00 345.20H127.40" stroke="#222" stroke-width="0.9" fill="none"/>
<rect x="131.60" y="343.80" width="12.8" height="6.80" fill="#2f4f8b"/>
<path d="M138.00 343.80V342.80M135.80 342.80H140.20" stroke="#222" stroke-width="0.9" fill="none"/>
<rect x="149.20" y="300.80" width="12.8" height="49.80" fill="#c0122f"/>
<path d="M155.60 300.80V296.20M153.40 296.20H157.80" stroke="#222" stroke-width="0.9" fill="none"/>
<rect x="162.00" y="297.20" width="12.8" height="53.40" fill="#2f4f8b"/>
<path d="M168.40 297.20V291.50M166.20 291.50H170.60" stroke="#222" stroke-width="0.9" fill="none"/>
<path d="M56.3 268.5V350.6H178" stroke="#111" stroke-width="1.1" fill="none"/>
<line x1="53.099999999999994" y1="350.60" x2="56.3" y2="350.60" stroke="#111" stroke-width="1.05"/>
<text x="49.9" y="353.40000000000003" font-size="7.85" text-anchor="end" stroke="#222" stroke-width="0.22" fill="#222">0</text>
<line x1="53.099999999999994" y1="334.77" x2="56.3" y2="334.77" stroke="#111" stroke-width="1.05"/>
<text x="49.9" y="337.57000000000005" font-size="7.85" text-anchor="end" stroke="#222" stroke-width="0.22" fill="#222">50000</text>
<line x1="53.099999999999994" y1="318.94" x2="56.3" y2="318.94" stroke="#111" stroke-width="1.05"/>
<text x="49.9" y="321.74" font-size="7.85" text-anchor="end" stroke="#222" stroke-width="0.22" fill="#222">100000</text>
<line x1="53.099999999999994" y1="303.11" x2="56.3" y2="303.11" stroke="#111" stroke-width="1.05"/>
<text x="49.9" y="305.91" font-size="7.85" text-anchor="end" stroke="#222" stroke-width="0.22" fill="#222">150000</text>
<line x1="53.099999999999994" y1="287.28" x2="56.3" y2="287.28" stroke="#111" stroke-width="1.05"/>
<text x="49.9" y="290.08000000000004" font-size="7.85" text-anchor="end" stroke="#222" stroke-width="0.22" fill="#222">200000</text>
<line x1="53.099999999999994" y1="271.45" x2="56.3" y2="271.45" stroke="#111" stroke-width="1.05"/>
<text x="49.9" y="274.25000000000006" font-size="7.85" text-anchor="end" stroke="#222" stroke-width="0.22" fill="#222">250000</text>
<circle cx="62.90" cy="330.30" r="2.2" fill="#fff" stroke="#0c0c0c" stroke-width="1.2"/>
<circle cx="65.70" cy="327.40" r="2.2" fill="#fff" stroke="#0c0c0c" stroke-width="1.2"/>
<circle cx="68.50" cy="331.20" r="2.2" fill="#fff" stroke="#0c0c0c" stroke-width="1.2"/>
<circle cx="65.70" cy="334.10" r="2.2" fill="#fff" stroke="#0c0c0c" stroke-width="1.2"/>
<circle cx="75.10" cy="324.50" r="2.2" fill="#fff" stroke="#0c0c0c" stroke-width="1.2"/>
<circle cx="78.10" cy="321.60" r="2.2" fill="#fff" stroke="#0c0c0c" stroke-width="1.2"/>
<circle cx="80.60" cy="326.70" r="2.2" fill="#fff" stroke="#0c0c0c" stroke-width="1.2"/>
<circle cx="77.60" cy="328.20" r="2.2" fill="#fff" stroke="#0c0c0c" stroke-width="1.2"/>
<circle cx="92.60" cy="314.30" r="2.2" fill="#fff" stroke="#0c0c0c" stroke-width="1.2"/>
<circle cx="98.40" cy="319.30" r="2.2" fill="#fff" stroke="#0c0c0c" stroke-width="1.2"/>
<circle cx="93.00" cy="325.40" r="2.2" fill="#fff" stroke="#0c0c0c" stroke-width="1.2"/>
<circle cx="99.60" cy="318.00" r="2.2" fill="#fff" stroke="#0c0c0c" stroke-width="1.2"/>
<circle cx="104.50" cy="308.00" r="2.2" fill="#fff" stroke="#0c0c0c" stroke-width="1.2"/>
<circle cx="104.50" cy="317.10" r="2.2" fill="#fff" stroke="#0c0c0c" stroke-width="1.2"/>
<circle cx="110.70" cy="314.10" r="2.2" fill="#fff" stroke="#0c0c0c" stroke-width="1.2"/>
<circle cx="113.60" cy="309.30" r="2.2" fill="#fff" stroke="#0c0c0c" stroke-width="1.2"/>
<circle cx="120.70" cy="346.60" r="2.2" fill="#fff" stroke="#0c0c0c" stroke-width="1.2"/>
<circle cx="123.60" cy="346.80" r="2.2" fill="#fff" stroke="#0c0c0c" stroke-width="1.2"/>
<circle cx="126.50" cy="346.60" r="2.2" fill="#fff" stroke="#0c0c0c" stroke-width="1.2"/>
<circle cx="129.40" cy="346.20" r="2.2" fill="#fff" stroke="#0c0c0c" stroke-width="1.2"/>
<circle cx="133.10" cy="342.80" r="2.2" fill="#fff" stroke="#0c0c0c" stroke-width="1.2"/>
<circle cx="135.80" cy="345.50" r="2.2" fill="#fff" stroke="#0c0c0c" stroke-width="1.2"/>
<circle cx="139.20" cy="343.30" r="2.2" fill="#fff" stroke="#0c0c0c" stroke-width="1.2"/>
<circle cx="141.70" cy="341.80" r="2.2" fill="#fff" stroke="#0c0c0c" stroke-width="1.2"/>
<circle cx="155.70" cy="285.30" r="2.2" fill="#fff" stroke="#0c0c0c" stroke-width="1.2"/>
<circle cx="155.70" cy="296.60" r="2.2" fill="#fff" stroke="#0c0c0c" stroke-width="1.2"/>
<circle cx="155.70" cy="306.50" r="2.2" fill="#fff" stroke="#0c0c0c" stroke-width="1.2"/>
<circle cx="155.70" cy="316.00" r="2.2" fill="#fff" stroke="#0c0c0c" stroke-width="1.2"/>
<circle cx="168.40" cy="288.30" r="2.2" fill="#fff" stroke="#0c0c0c" stroke-width="1.2"/>
<circle cx="168.40" cy="297.00" r="2.2" fill="#fff" stroke="#0c0c0c" stroke-width="1.2"/>
<circle cx="168.40" cy="306.60" r="2.2" fill="#fff" stroke="#0c0c0c" stroke-width="1.2"/>
<circle cx="168.40" cy="290.50" r="2.2" fill="#fff" stroke="#0c0c0c" stroke-width="1.2"/>
<text transform="translate(17.6 309.6) rotate(-90) scale(0.745 1)" font-size="9.4" text-anchor="middle" fill="#333">Peak area</text>
<text transform="translate(71.5 361.90000000000003) scale(0.93 1)" font-size="8.3" text-anchor="middle" stroke="#222" stroke-width="0.22" fill="#222">WT</text>
<text transform="translate(102 361.90000000000003) scale(0.93 1)" font-size="8.3" text-anchor="middle" font-style="italic" stroke="#222" stroke-width="0.22" fill="#222">Csk</text>
<text transform="translate(102 371.90000000000003) scale(0.93 1)" font-size="8.3" text-anchor="middle" stroke="#222" stroke-width="0.22" fill="#222">KO</text>
<text transform="translate(132 361.90000000000003) scale(0.93 1)" font-size="8.3" text-anchor="middle" font-style="italic" stroke="#222" stroke-width="0.22" fill="#222">CD148</text>
<text transform="translate(132 371.90000000000003) scale(0.93 1)" font-size="8.3" text-anchor="middle" stroke="#222" stroke-width="0.22" fill="#222">KO</text>
<text transform="translate(162 361.90000000000003) scale(0.93 1)" font-size="8.3" text-anchor="middle" stroke="#222" stroke-width="0.22" fill="#222">DKO</text>
<text x="95" y="312.8" font-size="7.6" text-anchor="middle" font-weight="bold" fill="#222">*</text>
<text x="108" y="305.3" font-size="7.6" text-anchor="middle" font-weight="bold" fill="#222">**</text>
<text x="125.2" y="342.6" font-size="7.6" text-anchor="middle" font-weight="bold" fill="#222">**</text>
<text x="138" y="337.1" font-size="7.6" text-anchor="middle" font-weight="bold" fill="#222">**</text>
<text x="155.7" y="282.90000000000003" font-size="7.6" text-anchor="middle" font-weight="bold" fill="#222">***</text>
<text x="168.4" y="286.6" font-size="7.6" text-anchor="middle" font-weight="bold" fill="#222">***</text>
<text x="292.5" y="262.0" font-size="9.7" text-anchor="middle" font-weight="bold" textLength="57.5" lengthAdjust="spacingAndGlyphs" fill="#0a0a0a" stroke="#0a0a0a" stroke-width="0.3">Lyn p-Tyr507</text>
<rect x="236.00" y="332.00" width="12.5" height="18.60" fill="#c0122f"/>
<path d="M242.25 332.00V330.90M240.05 330.90H244.45" stroke="#222" stroke-width="0.9" fill="none"/>
<rect x="248.50" y="330.76" width="12.5" height="19.84" fill="#2f4f8b"/>
<path d="M254.75 330.76V328.96M252.55 328.96H256.95" stroke="#222" stroke-width="0.9" fill="none"/>
<rect x="265.50" y="349.83" width="12.5" height="0.77" fill="#c0122f"/>
<rect x="278.00" y="349.52" width="12.5" height="1.08" fill="#2f4f8b"/>
<rect x="294.80" y="295.89" width="12.5" height="54.71" fill="#c0122f"/>
<path d="M301.05 295.89V289.69M298.85 289.69H303.25" stroke="#222" stroke-width="0.9" fill="none"/>
<rect x="307.30" y="287.67" width="12.5" height="62.93" fill="#2f4f8b"/>
<path d="M313.55 287.67V285.87M311.35 285.87H315.75" stroke="#222" stroke-width="0.9" fill="none"/>
<rect x="323.60" y="343.94" width="12.5" height="6.67" fill="#c0122f"/>
<path d="M329.85 343.94V342.94M327.65 342.94H332.05" stroke="#222" stroke-width="0.9" fill="none"/>
<rect x="336.10" y="344.56" width="12.5" height="6.05" fill="#2f4f8b"/>
<path d="M342.35 344.56V344.06M340.15 344.06H344.55" stroke="#222" stroke-width="0.9" fill="none"/>
<path d="M233.8 270.5V350.6H352" stroke="#111" stroke-width="1.1" fill="none"/>
<line x1="230.60000000000002" y1="350.60" x2="233.8" y2="350.60" stroke="#111" stroke-width="1.05"/>
<text x="228.1" y="353.40000000000003" font-size="7.85" text-anchor="end" stroke="#222" stroke-width="0.22" fill="#222">0</text>
<line x1="230.60000000000002" y1="335.10" x2="233.8" y2="335.10" stroke="#111" stroke-width="1.05"/>
<text x="228.1" y="337.90000000000003" font-size="7.85" text-anchor="end" stroke="#222" stroke-width="0.22" fill="#222">10000</text>
<line x1="230.60000000000002" y1="319.60" x2="233.8" y2="319.60" stroke="#111" stroke-width="1.05"/>
<text x="228.1" y="322.40000000000003" font-size="7.85" text-anchor="end" stroke="#222" stroke-width="0.22" fill="#222">20000</text>
<line x1="230.60000000000002" y1="304.10" x2="233.8" y2="304.10" stroke="#111" stroke-width="1.05"/>
<text x="228.1" y="306.90000000000003" font-size="7.85" text-anchor="end" stroke="#222" stroke-width="0.22" fill="#222">30000</text>
<line x1="230.60000000000002" y1="288.60" x2="233.8" y2="288.60" stroke="#111" stroke-width="1.05"/>
<text x="228.1" y="291.40000000000003" font-size="7.85" text-anchor="end" stroke="#222" stroke-width="0.22" fill="#222">40000</text>
<line x1="230.60000000000002" y1="273.10" x2="233.8" y2="273.10" stroke="#111" stroke-width="1.05"/>
<text x="228.1" y="275.90000000000003" font-size="7.85" text-anchor="end" stroke="#222" stroke-width="0.22" fill="#222">50000</text>
<circle cx="239.50" cy="330.00" r="2.2" fill="#fff" stroke="#0c0c0c" stroke-width="1.2"/>
<circle cx="242.50" cy="333.00" r="2.2" fill="#fff" stroke="#0c0c0c" stroke-width="1.2"/>
<circle cx="245.50" cy="332.00" r="2.2" fill="#fff" stroke="#0c0c0c" stroke-width="1.2"/>
<circle cx="251.50" cy="332.50" r="2.2" fill="#fff" stroke="#0c0c0c" stroke-width="1.2"/>
<circle cx="254.50" cy="327.50" r="2.2" fill="#fff" stroke="#0c0c0c" stroke-width="1.2"/>
<circle cx="257.50" cy="333.00" r="2.2" fill="#fff" stroke="#0c0c0c" stroke-width="1.2"/>
<circle cx="268.50" cy="349.80" r="2.2" fill="#fff" stroke="#0c0c0c" stroke-width="1.2"/>
<circle cx="271.50" cy="350.30" r="2.2" fill="#fff" stroke="#0c0c0c" stroke-width="1.2"/>
<circle cx="274.00" cy="350.00" r="2.2" fill="#fff" stroke="#0c0c0c" stroke-width="1.2"/>
<circle cx="281.00" cy="349.50" r="2.2" fill="#fff" stroke="#0c0c0c" stroke-width="1.2"/>
<circle cx="284.00" cy="350.30" r="2.2" fill="#fff" stroke="#0c0c0c" stroke-width="1.2"/>
<circle cx="286.50" cy="349.80" r="2.2" fill="#fff" stroke="#0c0c0c" stroke-width="1.2"/>
<circle cx="301.00" cy="284.50" r="2.2" fill="#fff" stroke="#0c0c0c" stroke-width="1.2"/>
<circle cx="301.00" cy="297.00" r="2.2" fill="#fff" stroke="#0c0c0c" stroke-width="1.2"/>
<circle cx="301.50" cy="305.50" r="2.2" fill="#fff" stroke="#0c0c0c" stroke-width="1.2"/>
<circle cx="310.50" cy="284.00" r="2.2" fill="#fff" stroke="#0c0c0c" stroke-width="1.2"/>
<circle cx="313.20" cy="291.30" r="2.2" fill="#fff" stroke="#0c0c0c" stroke-width="1.2"/>
<circle cx="316.30" cy="287.20" r="2.2" fill="#fff" stroke="#0c0c0c" stroke-width="1.2"/>
<circle cx="328.00" cy="342.50" r="2.2" fill="#fff" stroke="#0c0c0c" stroke-width="1.2"/>
<circle cx="330.50" cy="345.50" r="2.2" fill="#fff" stroke="#0c0c0c" stroke-width="1.2"/>
<circle cx="333.00" cy="344.00" r="2.2" fill="#fff" stroke="#0c0c0c" stroke-width="1.2"/>
<circle cx="339.50" cy="344.50" r="2.2" fill="#fff" stroke="#0c0c0c" stroke-width="1.2"/>
<circle cx="342.50" cy="344.30" r="2.2" fill="#fff" stroke="#0c0c0c" stroke-width="1.2"/>
<circle cx="345.50" cy="344.50" r="2.2" fill="#fff" stroke="#0c0c0c" stroke-width="1.2"/>
<text transform="translate(199.6 309.6) rotate(-90) scale(0.745 1)" font-size="9.4" text-anchor="middle" fill="#333">Peak area</text>
<text transform="translate(247 361.90000000000003) scale(0.93 1)" font-size="8.3" text-anchor="middle" stroke="#222" stroke-width="0.22" fill="#222">WT</text>
<text transform="translate(278 361.90000000000003) scale(0.93 1)" font-size="8.3" text-anchor="middle" font-style="italic" stroke="#222" stroke-width="0.22" fill="#222">Csk</text>
<text transform="translate(278 371.90000000000003) scale(0.93 1)" font-size="8.3" text-anchor="middle" stroke="#222" stroke-width="0.22" fill="#222">KO</text>
<text transform="translate(307 361.90000000000003) scale(0.93 1)" font-size="8.3" text-anchor="middle" font-style="italic" stroke="#222" stroke-width="0.22" fill="#222">CD148</text>
<text transform="translate(304.8 371.90000000000003) scale(0.93 1)" font-size="8.3" text-anchor="middle" stroke="#222" stroke-width="0.22" fill="#222">KO</text>
<text transform="translate(337 361.90000000000003) scale(0.93 1)" font-size="8.3" text-anchor="middle" stroke="#222" stroke-width="0.22" fill="#222">DKO</text>
<text x="271.5" y="347.1" font-size="7.6" text-anchor="middle" font-weight="bold" fill="#222">*</text>
<text x="284" y="347.1" font-size="7.6" text-anchor="middle" font-weight="bold" fill="#222">*</text>
<text x="301" y="282.1" font-size="7.6" text-anchor="middle" font-weight="bold" fill="#222">***</text>
<text x="314" y="278.6" font-size="7.6" text-anchor="middle" font-weight="bold" fill="#222">***</text>
<rect x="373.8" y="296.8" width="17" height="5.8" fill="#c0122f"/>
<rect x="373.8" y="308.8" width="17" height="5.8" fill="#2f4f8b"/>
<text x="394" y="302.2" font-size="8.3" text-anchor="start" textLength="17.6" lengthAdjust="spacingAndGlyphs" stroke="#222" stroke-width="0.22" fill="#222">basal</text>
<text x="394" y="314.2" font-size="8.3" text-anchor="start" textLength="28.2" lengthAdjust="spacingAndGlyphs" stroke="#222" stroke-width="0.22" fill="#222">collagen</text>
<text x="115.3" y="395.6" font-size="9.7" text-anchor="middle" font-weight="bold" textLength="55.2" lengthAdjust="spacingAndGlyphs" fill="#0a0a0a" stroke="#0a0a0a" stroke-width="0.3">Src p-Tyr529</text>
<rect x="59.00" y="447.72" width="12.5" height="36.48" fill="#c0122f"/>
<path d="M65.25 447.72V444.32M63.05 444.32H67.45" stroke="#222" stroke-width="0.9" fill="none"/>
<rect x="71.50" y="445.44" width="12.5" height="38.76" fill="#2f4f8b"/>
<path d="M77.75 445.44V440.14M75.55 440.14H79.95" stroke="#222" stroke-width="0.9" fill="none"/>
<rect x="88.80" y="478.12" width="12.5" height="6.08" fill="#c0122f"/>
<path d="M95.05 478.12V477.12M92.85 477.12H97.25" stroke="#222" stroke-width="0.9" fill="none"/>
<rect x="101.30" y="477.93" width="12.5" height="6.27" fill="#2f4f8b"/>
<path d="M107.55 477.93V477.13M105.35 477.13H109.75" stroke="#222" stroke-width="0.9" fill="none"/>
<rect x="118.80" y="432.52" width="12.5" height="51.68" fill="#c0122f"/>
<path d="M125.05 432.52V428.32M122.85 428.32H127.25" stroke="#222" stroke-width="0.9" fill="none"/>
<rect x="131.30" y="429.86" width="12.5" height="54.34" fill="#2f4f8b"/>
<path d="M137.55 429.86V420.86M135.35 420.86H139.75" stroke="#222" stroke-width="0.9" fill="none"/>
<rect x="148.40" y="452.66" width="12.5" height="31.54" fill="#c0122f"/>
<path d="M154.65 452.66V447.66M152.45 447.66H156.85" stroke="#222" stroke-width="0.9" fill="none"/>
<rect x="160.90" y="455.51" width="12.5" height="28.69" fill="#2f4f8b"/>
<path d="M167.15 455.51V450.21M164.95 450.21H169.35" stroke="#222" stroke-width="0.9" fill="none"/>
<path d="M56.3 405.5V484.2H176" stroke="#111" stroke-width="1.1" fill="none"/>
<line x1="53.099999999999994" y1="484.20" x2="56.3" y2="484.20" stroke="#111" stroke-width="1.05"/>
<text x="49.9" y="487.0" font-size="7.85" text-anchor="end" stroke="#222" stroke-width="0.22" fill="#222">0</text>
<line x1="53.099999999999994" y1="465.20" x2="56.3" y2="465.20" stroke="#111" stroke-width="1.05"/>
<text x="49.9" y="468.0" font-size="7.85" text-anchor="end" stroke="#222" stroke-width="0.22" fill="#222">50000</text>
<line x1="53.099999999999994" y1="446.20" x2="56.3" y2="446.20" stroke="#111" stroke-width="1.05"/>
<text x="49.9" y="449.0" font-size="7.85" text-anchor="end" stroke="#222" stroke-width="0.22" fill="#222">100000</text>
<line x1="53.099999999999994" y1="427.20" x2="56.3" y2="427.20" stroke="#111" stroke-width="1.05"/>
<text x="49.9" y="430.0" font-size="7.85" text-anchor="end" stroke="#222" stroke-width="0.22" fill="#222">150000</text>
<line x1="53.099999999999994" y1="408.20" x2="56.3" y2="408.20" stroke="#111" stroke-width="1.05"/>
<text x="49.9" y="411.0" font-size="7.85" text-anchor="end" stroke="#222" stroke-width="0.22" fill="#222">200000</text>
<circle cx="62.00" cy="442.00" r="2.2" fill="#fff" stroke="#0c0c0c" stroke-width="1.2"/>
<circle cx="65.50" cy="457.00" r="2.2" fill="#fff" stroke="#0c0c0c" stroke-width="1.2"/>
<circle cx="68.50" cy="444.00" r="2.2" fill="#fff" stroke="#0c0c0c" stroke-width="1.2"/>
<circle cx="77.00" cy="436.00" r="2.2" fill="#fff" stroke="#0c0c0c" stroke-width="1.2"/>
<circle cx="77.00" cy="445.00" r="2.2" fill="#fff" stroke="#0c0c0c" stroke-width="1.2"/>
<circle cx="77.00" cy="457.50" r="2.2" fill="#fff" stroke="#0c0c0c" stroke-width="1.2"/>
<circle cx="92.00" cy="476.50" r="2.2" fill="#fff" stroke="#0c0c0c" stroke-width="1.2"/>
<circle cx="94.50" cy="481.00" r="2.2" fill="#fff" stroke="#0c0c0c" stroke-width="1.2"/>
<circle cx="97.00" cy="478.00" r="2.2" fill="#fff" stroke="#0c0c0c" stroke-width="1.2"/>
<circle cx="104.50" cy="477.50" r="2.2" fill="#fff" stroke="#0c0c0c" stroke-width="1.2"/>
<circle cx="107.50" cy="479.80" r="2.2" fill="#fff" stroke="#0c0c0c" stroke-width="1.2"/>
<circle cx="110.00" cy="477.50" r="2.2" fill="#fff" stroke="#0c0c0c" stroke-width="1.2"/>
<circle cx="121.50" cy="437.50" r="2.2" fill="#fff" stroke="#0c0c0c" stroke-width="1.2"/>
<circle cx="125.00" cy="423.50" r="2.2" fill="#fff" stroke="#0c0c0c" stroke-width="1.2"/>
<circle cx="128.00" cy="437.50" r="2.2" fill="#fff" stroke="#0c0c0c" stroke-width="1.2"/>
<circle cx="137.50" cy="411.50" r="2.2" fill="#fff" stroke="#0c0c0c" stroke-width="1.2"/>
<circle cx="137.50" cy="433.50" r="2.2" fill="#fff" stroke="#0c0c0c" stroke-width="1.2"/>
<circle cx="137.50" cy="445.50" r="2.2" fill="#fff" stroke="#0c0c0c" stroke-width="1.2"/>
<circle cx="154.50" cy="444.00" r="2.2" fill="#fff" stroke="#0c0c0c" stroke-width="1.2"/>
<circle cx="154.50" cy="450.00" r="2.2" fill="#fff" stroke="#0c0c0c" stroke-width="1.2"/>
<circle cx="154.50" cy="462.00" r="2.2" fill="#fff" stroke="#0c0c0c" stroke-width="1.2"/>
<circle cx="167.00" cy="445.50" r="2.2" fill="#fff" stroke="#0c0c0c" stroke-width="1.2"/>
<circle cx="167.00" cy="455.30" r="2.2" fill="#fff" stroke="#0c0c0c" stroke-width="1.2"/>
<circle cx="167.00" cy="466.00" r="2.2" fill="#fff" stroke="#0c0c0c" stroke-width="1.2"/>
<text transform="translate(17.6 444.6) rotate(-90) scale(0.745 1)" font-size="9.4" text-anchor="middle" fill="#333">Peak area</text>
<text transform="translate(71.5 495.5) scale(0.93 1)" font-size="8.3" text-anchor="middle" stroke="#222" stroke-width="0.22" fill="#222">WT</text>
<text transform="translate(102 495.5) scale(0.93 1)" font-size="8.3" text-anchor="middle" font-style="italic" stroke="#222" stroke-width="0.22" fill="#222">Csk</text>
<text transform="translate(102 505.5) scale(0.93 1)" font-size="8.3" text-anchor="middle" stroke="#222" stroke-width="0.22" fill="#222">KO</text>
<text transform="translate(132 495.5) scale(0.93 1)" font-size="8.3" text-anchor="middle" font-style="italic" stroke="#222" stroke-width="0.22" fill="#222">CD148</text>
<text transform="translate(132 505.5) scale(0.93 1)" font-size="8.3" text-anchor="middle" stroke="#222" stroke-width="0.22" fill="#222">KO</text>
<text transform="translate(161 495.5) scale(0.93 1)" font-size="8.3" text-anchor="middle" stroke="#222" stroke-width="0.22" fill="#222">DKO</text>
<text x="95" y="473.1" font-size="7.6" text-anchor="middle" font-weight="bold" fill="#222">***</text>
<text x="107.5" y="472.1" font-size="7.6" text-anchor="middle" font-weight="bold" fill="#222">***</text>
<text x="125" y="419.1" font-size="7.6" text-anchor="middle" font-weight="bold" fill="#222">**</text>
<text x="137.5" y="407.1" font-size="7.6" text-anchor="middle" font-weight="bold" fill="#222">**</text>
<text x="167" y="441.6" font-size="7.6" text-anchor="middle" font-weight="bold" fill="#222">*</text>
<text x="291.8" y="395.6" font-size="9.7" text-anchor="middle" font-weight="bold" textLength="59" lengthAdjust="spacingAndGlyphs" fill="#0a0a0a" stroke="#0a0a0a" stroke-width="0.3">Fyn p-Tyr530</text>
<rect x="236.20" y="450.52" width="12.4" height="33.68" fill="#c0122f"/>
<path d="M242.40 450.52V445.32M240.20 445.32H244.60" stroke="#222" stroke-width="0.9" fill="none"/>
<rect x="248.60" y="446.95" width="12.4" height="37.25" fill="#2f4f8b"/>
<path d="M254.80 446.95V440.95M252.60 440.95H257.00" stroke="#222" stroke-width="0.9" fill="none"/>
<rect x="265.00" y="475.48" width="12.4" height="8.72" fill="#c0122f"/>
<path d="M271.20 475.48V471.48M269.00 471.48H273.40" stroke="#222" stroke-width="0.9" fill="none"/>
<rect x="277.40" y="473.10" width="12.4" height="11.10" fill="#2f4f8b"/>
<path d="M283.60 473.10V469.10M281.40 469.10H285.80" stroke="#222" stroke-width="0.9" fill="none"/>
<rect x="294.20" y="431.10" width="12.4" height="53.10" fill="#c0122f"/>
<path d="M300.40 431.10V425.10M298.20 425.10H302.60" stroke="#222" stroke-width="0.9" fill="none"/>
<rect x="306.60" y="431.10" width="12.4" height="53.10" fill="#2f4f8b"/>
<path d="M312.80 431.10V423.10M310.60 423.10H315.00" stroke="#222" stroke-width="0.9" fill="none"/>
<rect x="323.20" y="452.90" width="12.4" height="31.30" fill="#c0122f"/>
<path d="M329.40 452.90V450.90M327.20 450.90H331.60" stroke="#222" stroke-width="0.9" fill="none"/>
<rect x="335.60" y="454.48" width="12.4" height="29.72" fill="#2f4f8b"/>
<path d="M341.80 454.48V448.98M339.60 448.98H344.00" stroke="#222" stroke-width="0.9" fill="none"/>
<path d="M233.6 403.5V484.2H350.5" stroke="#111" stroke-width="1.1" fill="none"/>
<line x1="230.4" y1="484.20" x2="233.6" y2="484.20" stroke="#111" stroke-width="1.05"/>
<text x="228.1" y="487.0" font-size="7.85" text-anchor="end" stroke="#222" stroke-width="0.22" fill="#222">0</text>
<line x1="230.4" y1="468.35" x2="233.6" y2="468.35" stroke="#111" stroke-width="1.05"/>
<text x="228.1" y="471.15" font-size="7.85" text-anchor="end" stroke="#222" stroke-width="0.22" fill="#222">20000</text>
<line x1="230.4" y1="452.50" x2="233.6" y2="452.50" stroke="#111" stroke-width="1.05"/>
<text x="228.1" y="455.3" font-size="7.85" text-anchor="end" stroke="#222" stroke-width="0.22" fill="#222">40000</text>
<line x1="230.4" y1="436.65" x2="233.6" y2="436.65" stroke="#111" stroke-width="1.05"/>
<text x="228.1" y="439.45" font-size="7.85" text-anchor="end" stroke="#222" stroke-width="0.22" fill="#222">60000</text>
<line x1="230.4" y1="420.80" x2="233.6" y2="420.80" stroke="#111" stroke-width="1.05"/>
<text x="228.1" y="423.6" font-size="7.85" text-anchor="end" stroke="#222" stroke-width="0.22" fill="#222">80000</text>
<line x1="230.4" y1="404.95" x2="233.6" y2="404.95" stroke="#111" stroke-width="1.05"/>
<text x="228.1" y="407.75" font-size="7.85" text-anchor="end" stroke="#222" stroke-width="0.22" fill="#222">100000</text>
<circle cx="239.00" cy="458.00" r="2.2" fill="#fff" stroke="#0c0c0c" stroke-width="1.2"/>
<circle cx="242.50" cy="440.00" r="2.2" fill="#fff" stroke="#0c0c0c" stroke-width="1.2"/>
<circle cx="245.50" cy="454.00" r="2.2" fill="#fff" stroke="#0c0c0c" stroke-width="1.2"/>
<circle cx="254.50" cy="436.00" r="2.2" fill="#fff" stroke="#0c0c0c" stroke-width="1.2"/>
<circle cx="254.50" cy="448.00" r="2.2" fill="#fff" stroke="#0c0c0c" stroke-width="1.2"/>
<circle cx="254.50" cy="457.00" r="2.2" fill="#fff" stroke="#0c0c0c" stroke-width="1.2"/>
<circle cx="268.00" cy="479.00" r="2.2" fill="#fff" stroke="#0c0c0c" stroke-width="1.2"/>
<circle cx="271.50" cy="469.50" r="2.2" fill="#fff" stroke="#0c0c0c" stroke-width="1.2"/>
<circle cx="274.50" cy="478.50" r="2.2" fill="#fff" stroke="#0c0c0c" stroke-width="1.2"/>
<circle cx="280.50" cy="478.50" r="2.2" fill="#fff" stroke="#0c0c0c" stroke-width="1.2"/>
<circle cx="283.50" cy="467.00" r="2.2" fill="#fff" stroke="#0c0c0c" stroke-width="1.2"/>
<circle cx="287.00" cy="474.00" r="2.2" fill="#fff" stroke="#0c0c0c" stroke-width="1.2"/>
<circle cx="298.50" cy="438.00" r="2.2" fill="#fff" stroke="#0c0c0c" stroke-width="1.2"/>
<circle cx="300.50" cy="419.50" r="2.2" fill="#fff" stroke="#0c0c0c" stroke-width="1.2"/>
<circle cx="304.00" cy="436.50" r="2.2" fill="#fff" stroke="#0c0c0c" stroke-width="1.2"/>
<circle cx="312.50" cy="418.00" r="2.2" fill="#fff" stroke="#0c0c0c" stroke-width="1.2"/>
<circle cx="312.50" cy="432.00" r="2.2" fill="#fff" stroke="#0c0c0c" stroke-width="1.2"/>
<circle cx="312.50" cy="445.50" r="2.2" fill="#fff" stroke="#0c0c0c" stroke-width="1.2"/>
<circle cx="327.50" cy="450.00" r="2.2" fill="#fff" stroke="#0c0c0c" stroke-width="1.2"/>
<circle cx="329.50" cy="454.50" r="2.2" fill="#fff" stroke="#0c0c0c" stroke-width="1.2"/>
<circle cx="332.00" cy="453.50" r="2.2" fill="#fff" stroke="#0c0c0c" stroke-width="1.2"/>
<circle cx="341.50" cy="446.50" r="2.2" fill="#fff" stroke="#0c0c0c" stroke-width="1.2"/>
<circle cx="341.50" cy="455.00" r="2.2" fill="#fff" stroke="#0c0c0c" stroke-width="1.2"/>
<circle cx="341.50" cy="462.00" r="2.2" fill="#fff" stroke="#0c0c0c" stroke-width="1.2"/>
<text transform="translate(194.6 444.6) rotate(-90) scale(0.745 1)" font-size="9.4" text-anchor="middle" fill="#333">Peak area</text>
<text transform="translate(247 495.5) scale(0.93 1)" font-size="8.3" text-anchor="middle" stroke="#222" stroke-width="0.22" fill="#222">WT</text>
<text transform="translate(278 495.5) scale(0.93 1)" font-size="8.3" text-anchor="middle" font-style="italic" stroke="#222" stroke-width="0.22" fill="#222">Csk</text>
<text transform="translate(278 505.5) scale(0.93 1)" font-size="8.3" text-anchor="middle" stroke="#222" stroke-width="0.22" fill="#222">KO</text>
<text transform="translate(307.2 495.5) scale(0.93 1)" font-size="8.3" text-anchor="middle" font-style="italic" stroke="#222" stroke-width="0.22" fill="#222">CD148</text>
<text transform="translate(306.6 505.5) scale(0.93 1)" font-size="8.3" text-anchor="middle" stroke="#222" stroke-width="0.22" fill="#222">KO</text>
<text transform="translate(336 495.5) scale(0.93 1)" font-size="8.3" text-anchor="middle" stroke="#222" stroke-width="0.22" fill="#222">DKO</text>
<text x="271.5" y="466.6" font-size="7.6" text-anchor="middle" font-weight="bold" fill="#222">***</text>
<text x="284" y="463.6" font-size="7.6" text-anchor="middle" font-weight="bold" fill="#222">***</text>
<text x="300.5" y="416.6" font-size="7.6" text-anchor="middle" font-weight="bold" fill="#222">**</text>
<text x="312.5" y="414.1" font-size="7.6" text-anchor="middle" font-weight="bold" fill="#222">**</text>
<text x="457.9" y="395.6" font-size="9.7" text-anchor="middle" font-weight="bold" textLength="68.3" lengthAdjust="spacingAndGlyphs" fill="#0a0a0a" stroke="#0a0a0a" stroke-width="0.3">Syk p-Tyr525/6</text>
<rect x="405.80" y="479.26" width="11.7" height="4.94" fill="#c0122f"/>
<path d="M411.65 479.26V476.16M409.45 476.16H413.85" stroke="#222" stroke-width="0.9" fill="none"/>
<rect x="417.50" y="433.76" width="11.7" height="50.44" fill="#2f4f8b"/>
<path d="M423.35 433.76V420.26M421.15 420.26H425.55" stroke="#222" stroke-width="0.9" fill="none"/>
<rect x="433.20" y="479.26" width="11.7" height="4.94" fill="#c0122f"/>
<path d="M439.05 479.26V474.06M436.85 474.06H441.25" stroke="#222" stroke-width="0.9" fill="none"/>
<rect x="444.90" y="463.66" width="11.7" height="20.54" fill="#2f4f8b"/>
<path d="M450.75 463.66V455.06M448.55 455.06H452.95" stroke="#222" stroke-width="0.9" fill="none"/>
<rect x="460.20" y="476.92" width="11.7" height="7.28" fill="#c0122f"/>
<path d="M466.05 476.92V473.02M463.85 473.02H468.25" stroke="#222" stroke-width="0.9" fill="none"/>
<rect x="471.90" y="473.02" width="11.7" height="11.18" fill="#2f4f8b"/>
<path d="M477.75 473.02V467.02M475.55 467.02H479.95" stroke="#222" stroke-width="0.9" fill="none"/>
<rect x="487.00" y="477.05" width="11.7" height="7.15" fill="#c0122f"/>
<path d="M492.85 477.05V473.15M490.65 473.15H495.05" stroke="#222" stroke-width="0.9" fill="none"/>
<rect x="498.70" y="473.02" width="11.7" height="11.18" fill="#2f4f8b"/>
<path d="M504.55 473.02V467.02M502.35 467.02H506.75" stroke="#222" stroke-width="0.9" fill="none"/>
<path d="M403.3 403.5V484.2H512.3" stroke="#111" stroke-width="1.1" fill="none"/>
<line x1="400.1" y1="484.20" x2="403.3" y2="484.20" stroke="#111" stroke-width="1.05"/>
<text x="398.1" y="487.0" font-size="7.85" text-anchor="end" stroke="#222" stroke-width="0.22" fill="#222">0</text>
<line x1="400.1" y1="458.20" x2="403.3" y2="458.20" stroke="#111" stroke-width="1.05"/>
<text x="398.1" y="461.0" font-size="7.85" text-anchor="end" stroke="#222" stroke-width="0.22" fill="#222">10000</text>
<line x1="400.1" y1="432.20" x2="403.3" y2="432.20" stroke="#111" stroke-width="1.05"/>
<text x="398.1" y="435.0" font-size="7.85" text-anchor="end" stroke="#222" stroke-width="0.22" fill="#222">20000</text>
<line x1="400.1" y1="406.20" x2="403.3" y2="406.20" stroke="#111" stroke-width="1.05"/>
<text x="398.1" y="409.0" font-size="7.85" text-anchor="end" stroke="#222" stroke-width="0.22" fill="#222">30000</text>
<circle cx="408.50" cy="481.50" r="2.2" fill="#fff" stroke="#0c0c0c" stroke-width="1.2"/>
<circle cx="411.50" cy="470.00" r="2.2" fill="#fff" stroke="#0c0c0c" stroke-width="1.2"/>
<circle cx="413.00" cy="484.50" r="2.2" fill="#fff" stroke="#0c0c0c" stroke-width="1.2"/>
<circle cx="415.50" cy="481.50" r="2.2" fill="#fff" stroke="#0c0c0c" stroke-width="1.2"/>
<circle cx="423.00" cy="411.50" r="2.2" fill="#fff" stroke="#0c0c0c" stroke-width="1.2"/>
<circle cx="423.00" cy="421.50" r="2.2" fill="#fff" stroke="#0c0c0c" stroke-width="1.2"/>
<circle cx="423.00" cy="438.00" r="2.2" fill="#fff" stroke="#0c0c0c" stroke-width="1.2"/>
<circle cx="423.00" cy="466.50" r="2.2" fill="#fff" stroke="#0c0c0c" stroke-width="1.2"/>
<circle cx="437.00" cy="484.50" r="2.2" fill="#fff" stroke="#0c0c0c" stroke-width="1.2"/>
<circle cx="439.50" cy="464.50" r="2.2" fill="#fff" stroke="#0c0c0c" stroke-width="1.2"/>
<circle cx="441.00" cy="480.00" r="2.2" fill="#fff" stroke="#0c0c0c" stroke-width="1.2"/>
<circle cx="442.50" cy="484.50" r="2.2" fill="#fff" stroke="#0c0c0c" stroke-width="1.2"/>
<circle cx="447.50" cy="481.00" r="2.2" fill="#fff" stroke="#0c0c0c" stroke-width="1.2"/>
<circle cx="450.50" cy="446.00" r="2.2" fill="#fff" stroke="#0c0c0c" stroke-width="1.2"/>
<circle cx="450.50" cy="453.50" r="2.2" fill="#fff" stroke="#0c0c0c" stroke-width="1.2"/>
<circle cx="453.50" cy="477.50" r="2.2" fill="#fff" stroke="#0c0c0c" stroke-width="1.2"/>
<circle cx="463.50" cy="484.50" r="2.2" fill="#fff" stroke="#0c0c0c" stroke-width="1.2"/>
<circle cx="466.00" cy="467.00" r="2.2" fill="#fff" stroke="#0c0c0c" stroke-width="1.2"/>
<circle cx="466.00" cy="473.50" r="2.2" fill="#fff" stroke="#0c0c0c" stroke-width="1.2"/>
<circle cx="469.50" cy="484.50" r="2.2" fill="#fff" stroke="#0c0c0c" stroke-width="1.2"/>
<circle cx="473.90" cy="484.40" r="2.2" fill="#fff" stroke="#0c0c0c" stroke-width="1.2"/>
<circle cx="477.00" cy="456.50" r="2.2" fill="#fff" stroke="#0c0c0c" stroke-width="1.2"/>
<circle cx="477.00" cy="470.50" r="2.2" fill="#fff" stroke="#0c0c0c" stroke-width="1.2"/>
<circle cx="479.70" cy="482.20" r="2.2" fill="#fff" stroke="#0c0c0c" stroke-width="1.2"/>
<circle cx="490.00" cy="485.50" r="2.2" fill="#fff" stroke="#0c0c0c" stroke-width="1.2"/>
<circle cx="492.50" cy="466.50" r="2.2" fill="#fff" stroke="#0c0c0c" stroke-width="1.2"/>
<circle cx="492.50" cy="477.00" r="2.2" fill="#fff" stroke="#0c0c0c" stroke-width="1.2"/>
<circle cx="495.50" cy="483.00" r="2.2" fill="#fff" stroke="#0c0c0c" stroke-width="1.2"/>
<circle cx="501.20" cy="485.00" r="2.2" fill="#fff" stroke="#0c0c0c" stroke-width="1.2"/>
<circle cx="504.20" cy="456.50" r="2.2" fill="#fff" stroke="#0c0c0c" stroke-width="1.2"/>
<circle cx="504.00" cy="471.00" r="2.2" fill="#fff" stroke="#0c0c0c" stroke-width="1.2"/>
<circle cx="507.20" cy="482.30" r="2.2" fill="#fff" stroke="#0c0c0c" stroke-width="1.2"/>
<text transform="translate(369.1 444.6) rotate(-90) scale(0.745 1)" font-size="9.4" text-anchor="middle" fill="#333">Peak area</text>
<text transform="translate(416.5 495.5) scale(0.93 1)" font-size="8.3" text-anchor="middle" stroke="#222" stroke-width="0.22" fill="#222">WT</text>
<text transform="translate(445 495.5) scale(0.93 1)" font-size="8.3" text-anchor="middle" font-style="italic" stroke="#222" stroke-width="0.22" fill="#222">Csk</text>
<text transform="translate(445 505.5) scale(0.93 1)" font-size="8.3" text-anchor="middle" stroke="#222" stroke-width="0.22" fill="#222">KO</text>
<text transform="translate(471.5 495.5) scale(0.93 1)" font-size="8.3" text-anchor="middle" font-style="italic" stroke="#222" stroke-width="0.22" fill="#222">CD148</text>
<text transform="translate(471.5 505.5) scale(0.93 1)" font-size="8.3" text-anchor="middle" stroke="#222" stroke-width="0.22" fill="#222">KO</text>
<text transform="translate(498.5 495.5) scale(0.93 1)" font-size="8.3" text-anchor="middle" stroke="#222" stroke-width="0.22" fill="#222">DKO</text>
<text x="450.5" y="442.6" font-size="7.6" text-anchor="middle" font-weight="bold" fill="#222">**</text>
<text x="477" y="453.1" font-size="7.6" text-anchor="middle" font-weight="bold" fill="#222">***</text>
<text x="505" y="453.1" font-size="7.6" text-anchor="middle" font-weight="bold" fill="#222">***</text>
<path d="M0 0.5H520" stroke="#000" stroke-width="1.2"/>
<path d="M0.5 0V514" stroke="#000" stroke-width="1.2"/>
<path d="M519.3 0V514" stroke="#000" stroke-width="1.4"/>
<path d="M0 513.35H520" stroke="#000" stroke-width="1.3"/>
</svg></body></html>
